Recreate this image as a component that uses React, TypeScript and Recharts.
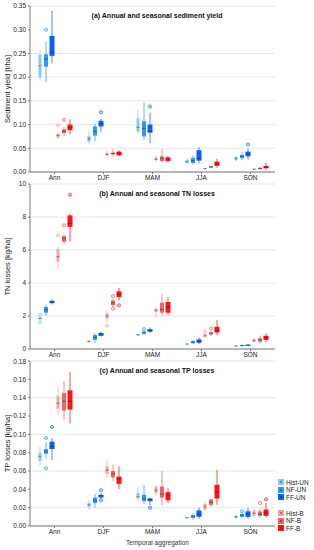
import React from 'react';
import { ComposedChart, Bar, XAxis, YAxis, CartesianGrid } from 'recharts';

const CATEGORIES = ['Ann', 'DJF', 'MAM', 'JJA', 'SON'];
const SERIES = ['Hist-UN', 'NF-UN', 'FF-UN', 'Hist-B', 'NF-B', 'FF-B'];
const COLORS = ['#86c9f3', '#2a9bf0', '#0a62f0', '#f4a3a3', '#ee6363', '#ff1414'];
const BOX_W = [3, 4, 5, 3, 4, 5];

// each entry: [low whisker, q1, median, q3, high whisker, ...outliers], one per category
const SED_HIST_UN = [[0.193, 0.2, 0.224, 0.247, 0.256], [0.058, 0.064, 0.07, 0.076, 0.086], [0.08, 0.085, 0.094, 0.113, 0.132], [0.016, 0.019, 0.022, 0.025, 0.029], [0.022, 0.025, 0.028, 0.032, 0.034]];
const SED_NF_UN = [[0.189, 0.222, 0.238, 0.248, 0.276, 0.3], [0.065, 0.077, 0.085, 0.096, 0.102], [0.068, 0.075, 0.092, 0.107, 0.146], [0.015, 0.019, 0.024, 0.03, 0.035], [0.025, 0.029, 0.033, 0.036, 0.042]];
const SED_FF_UN = [[0.229, 0.245, 0.253, 0.287, 0.34], [0.085, 0.096, 0.102, 0.108, 0.112, 0.126], [0.061, 0.083, 0.086, 0.1, 0.125, 0.138], [0.018, 0.024, 0.029, 0.046, 0.052], [0.026, 0.033, 0.038, 0.043, 0.049, 0.058]];
const SED_HIST_B = [[0.07, 0.072, 0.077, 0.081, 0.085, 0.098], [0.03, 0.035, 0.037, 0.04, 0.045], [0.021, 0.025, 0.027, 0.03, 0.036], [0.005, 0.006, 0.007, 0.008, 0.009], [0.004, 0.005, 0.006, 0.007, 0.008]];
const SED_NF_B = [[0.075, 0.082, 0.086, 0.09, 0.095, 0.11], [0.033, 0.037, 0.039, 0.041, 0.048], [0.02, 0.023, 0.029, 0.033, 0.049], [0.008, 0.009, 0.011, 0.012, 0.013], [0.005, 0.006, 0.007, 0.009, 0.011]];
const SED_FF_B = [[0.08, 0.088, 0.094, 0.1, 0.111], [0.033, 0.035, 0.039, 0.043, 0.046], [0.02, 0.023, 0.027, 0.031, 0.034], [0.009, 0.013, 0.017, 0.022, 0.028], [0.005, 0.008, 0.01, 0.013, 0.019]];

const TN_HIST_UN = [[1.72, 1.8, 1.85, 1.92, 2.0, 1.62, 2.08], [0.38, 0.42, 0.46, 0.5, 0.55], [0.8, 0.82, 0.86, 0.9, 0.92], [0.25, 0.27, 0.3, 0.33, 0.35], [0.15, 0.17, 0.18, 0.2, 0.22]];
const TN_NF_UN = [[2.0, 2.2, 2.38, 2.55, 2.7], [0.35, 0.55, 0.7, 0.85, 0.95], [0.85, 0.93, 0.98, 1.05, 1.15, 1.2], [0.3, 0.35, 0.42, 0.48, 0.55], [0.15, 0.18, 0.21, 0.24, 0.27]];
const TN_FF_UN = [[2.7, 2.78, 2.85, 2.92, 3.0], [0.75, 0.8, 0.9, 0.97, 1.05], [0.98, 1.05, 1.12, 1.2, 1.3], [0.3, 0.38, 0.48, 0.58, 0.7], [0.17, 0.2, 0.23, 0.26, 0.3]];
const TN_HIST_B = [[4.8, 5.3, 5.6, 6.05, 6.2, 6.9], [1.6, 1.85, 2.0, 2.15, 2.35, 1.4], [1.9, 2.25, 2.35, 2.45, 2.5], [0.65, 0.75, 0.8, 0.88, 0.95, 1.05], [0.35, 0.45, 0.52, 0.6, 0.65]];
const TN_NF_B = [[6.35, 6.5, 6.7, 6.85, 6.9, 7.5], [2.55, 2.65, 2.8, 2.95, 3.05, 2.45, 3.2], [2.0, 2.2, 2.4, 2.8, 3.3], [0.8, 0.88, 0.95, 1.0, 1.1, 1.25], [0.35, 0.45, 0.55, 0.65, 0.8]];
const TN_FF_B = [[6.5, 7.4, 7.6, 8.1, 8.2, 9.35], [2.95, 3.15, 3.3, 3.5, 3.7, 2.65], [2.05, 2.2, 2.55, 2.85, 3.15], [0.85, 1.0, 1.15, 1.35, 1.75], [0.4, 0.55, 0.7, 0.8, 0.95]];

const TP_HIST_UN = [[0.066, 0.071, 0.076, 0.08, 0.087], [0.018, 0.021, 0.023, 0.025, 0.028], [0.027, 0.03, 0.032, 0.036, 0.043], [0.008, 0.0085, 0.009, 0.0095, 0.01], [0.008, 0.0085, 0.01, 0.011, 0.012]];
const TP_NF_UN = [[0.074, 0.079, 0.081, 0.084, 0.092, 0.063, 0.096], [0.02, 0.025, 0.028, 0.031, 0.035], [0.024, 0.027, 0.03, 0.034, 0.045], [0.007, 0.009, 0.01, 0.012, 0.014], [0.009, 0.01, 0.012, 0.013, 0.014, 0.016]];
const TP_FF_UN = [[0.072, 0.084, 0.087, 0.092, 0.096, 0.108], [0.03, 0.031, 0.033, 0.034, 0.036, 0.028, 0.039], [0.023, 0.027, 0.029, 0.03, 0.031, 0.02], [0.008, 0.01, 0.013, 0.017, 0.02], [0.008, 0.01, 0.013, 0.016, 0.02]];
const TP_HIST_B = [[0.122, 0.128, 0.134, 0.142, 0.152], [0.053, 0.057, 0.061, 0.065, 0.072], [0.033, 0.036, 0.039, 0.043, 0.045], [0.016, 0.018, 0.021, 0.024, 0.027], [0.009, 0.011, 0.014, 0.017, 0.019]];
const TP_NF_B = [[0.116, 0.126, 0.136, 0.145, 0.158], [0.049, 0.053, 0.057, 0.06, 0.067], [0.023, 0.031, 0.035, 0.043, 0.06], [0.021, 0.023, 0.026, 0.029, 0.03], [0.009, 0.011, 0.013, 0.016, 0.019, 0.025]];
const TP_FF_B = [[0.112, 0.127, 0.136, 0.148, 0.168], [0.04, 0.046, 0.051, 0.054, 0.065], [0.025, 0.028, 0.033, 0.037, 0.041], [0.023, 0.03, 0.037, 0.045, 0.061], [0.009, 0.011, 0.014, 0.018, 0.025, 0.029]];

const SED_TICKS = [0, 0.05, 0.1, 0.15, 0.2, 0.25, 0.3, 0.35];
const TN_TICKS = [0, 2, 4, 6, 8, 10];
const TP_TICKS = [0, 0.02, 0.04, 0.06, 0.08, 0.1, 0.12, 0.14, 0.16, 0.18];

const FONT = '"Liberation Sans", Arial, sans-serif';

function BoxShape(props: any) {
  const { x, y, width, height, payload, k } = props;
  const st: number[] = payload[SERIES[k] + '#'];
  const lo = Math.min(...st);
  const hi = Math.max(...st);
  const py = (v: number) => y + (height * (hi - v)) / (hi - lo);
  const cx = x + width / 2;
  const bw = BOX_W[k];
  const c = COLORS[k];
  const top = py(st[3]);
  const bot = py(st[1]);
  return (
    <g>
      <line x1={cx} x2={cx} y1={py(st[0])} y2={py(st[4])} stroke={c} strokeOpacity={0.75} strokeWidth={1} />
      <rect x={cx - bw / 2} y={top} width={bw} height={Math.max(1, bot - top)} fill={c} />
      <line x1={cx - bw / 2} x2={cx + bw / 2} y1={py(st[2])} y2={py(st[2])} stroke="#1a1a40" strokeOpacity={0.45} strokeWidth={1} />
      {st.slice(5).map((v, i) => (
        <circle key={i} cx={cx} cy={py(v)} r={1.6} fill={c} fillOpacity={0.25} stroke={c} strokeOpacity={0.7} strokeWidth={0.9} />
      ))}
    </g>
  );
}

function BoxChart({ series, ticks, fmt, yLabel, height, marginTop, xHeight, xLabel }: any) {
  const data = CATEGORIES.map((cat, i) => {
    const row: any = { cat };
    SERIES.forEach((s, k) => {
      const st = series[k][i];
      row[s] = [Math.min(...st), Math.max(...st)];
      row[s + '#'] = st;
    });
    return row;
  });
  const domain = [ticks[0], ticks[ticks.length - 1]];
  return (
    <ComposedChart width={314} height={height} data={data} margin={{ top: marginTop, right: 39, bottom: 0, left: 0 }} barSize={6} barGap={0}>
      <CartesianGrid vertical={false} stroke="#e6e6e6" />
      <XAxis
        dataKey="cat"
        height={xHeight}
        interval={0}
        tickSize={2}
        tickMargin={1}
        stroke="#7a7a7a"
        tick={{ fontSize: 6.5, fill: '#222', fontFamily: FONT }}
        label={xLabel ? { value: xLabel, position: 'insideBottom', offset: 5, dx: 5, style: { fontSize: 6.5, fill: '#333', fontFamily: FONT } } : undefined}
      />
      <XAxis xAxisId="top" orientation="top" dataKey="cat" height={0} tick={false} tickLine={false} stroke="#a0a0a0" />
      <YAxis
        domain={domain}
        ticks={ticks}
        width={30}
        tickSize={2}
        tickMargin={2}
        stroke="#7a7a7a"
        tickFormatter={fmt}
        tick={{ fontSize: 6.5, fill: '#222', fontFamily: FONT }}
        label={{ value: yLabel, angle: -90, position: 'insideLeft', offset: 7, style: { textAnchor: 'middle', fontSize: 7.5, fill: '#222', fontFamily: FONT } }}
      />
      <YAxis yAxisId="r" orientation="right" domain={domain} ticks={ticks} width={0} tick={false} tickLine={false} stroke="#a0a0a0" />
      {SERIES.map((s, k) => (
        <Bar key={s} dataKey={s} isAnimationActive={false} shape={(p: any) => <BoxShape {...p} k={k} />} />
      ))}
    </ComposedChart>
  );
}

const fmt2 = (v: number) => v.toFixed(2);
const fmt0 = (v: number) => String(v);

const titleStyle: any = {
  position: 'absolute', left: 0, width: 314, textAlign: 'center', fontFamily: FONT,
  fontWeight: 'bold', fontSize: 7, lineHeight: '8px', color: '#111',
};

function LegendItem({ k, top }: any) {
  return (
    <div style={{ position: 'absolute', left: 278, top, height: 7, display: 'flex', alignItems: 'center', fontFamily: FONT, fontSize: 6.5, color: '#222' }}>
      <div style={{ width: 6, height: 6, background: COLORS[k], position: 'relative', marginRight: 2 }}>
        <div style={{ position: 'absolute', left: 2, top: 2, width: 2, height: 2, background: 'rgba(20,20,60,0.35)' }} />
      </div>
      {SERIES[k]}
    </div>
  );
}

export default function App() {
  return (
    <div style={{ position: 'absolute', left: 0, top: 0, width: 314, height: 550, background: '#fff' }}>
      <div style={{ position: 'absolute', left: 0, top: 0 }}>
        <BoxChart series={[SED_HIST_UN, SED_NF_UN, SED_FF_UN, SED_HIST_B, SED_NF_B, SED_FF_B]} ticks={SED_TICKS} fmt={fmt2} yLabel="Sediment yield [t/ha]" height={182} marginTop={6} xHeight={10} />
      </div>
      <div style={{ position: 'absolute', left: 0, top: 180 }}>
        <BoxChart series={[TN_HIST_UN, TN_NF_UN, TN_FF_UN, TN_HIST_B, TN_NF_B, TN_FF_B]} ticks={TN_TICKS} fmt={fmt0} yLabel="TN losses [kg/ha]" height={179} marginTop={4} xHeight={10} />
      </div>
      <div style={{ position: 'absolute', left: 0, top: 358 }}>
        <BoxChart series={[TP_HIST_UN, TP_NF_UN, TP_FF_UN, TP_HIST_B, TP_NF_B, TP_FF_B]} ticks={TP_TICKS} fmt={fmt2} yLabel="TP losses [kg/ha]" height={192} marginTop={3} xHeight={24} xLabel="Temporal aggregation" />
      </div>
      <div style={{ ...titleStyle, top: 12 }}>(a) Annual and seasonal sediment yield</div>
      <div style={{ ...titleStyle, top: 190 }}>(b) Annual and seasonal TN losses</div>
      <div style={{ ...titleStyle, top: 367 }}>(c) Annual and seasonal TP losses</div>
      {[0, 1, 2].map((k) => <LegendItem key={k} k={k} top={478.5 + k * 7.5} />)}
      {[3, 4, 5].map((k) => <LegendItem key={k} k={k} top={487 + k * 7.5} />)}
    </div>
  );
}
